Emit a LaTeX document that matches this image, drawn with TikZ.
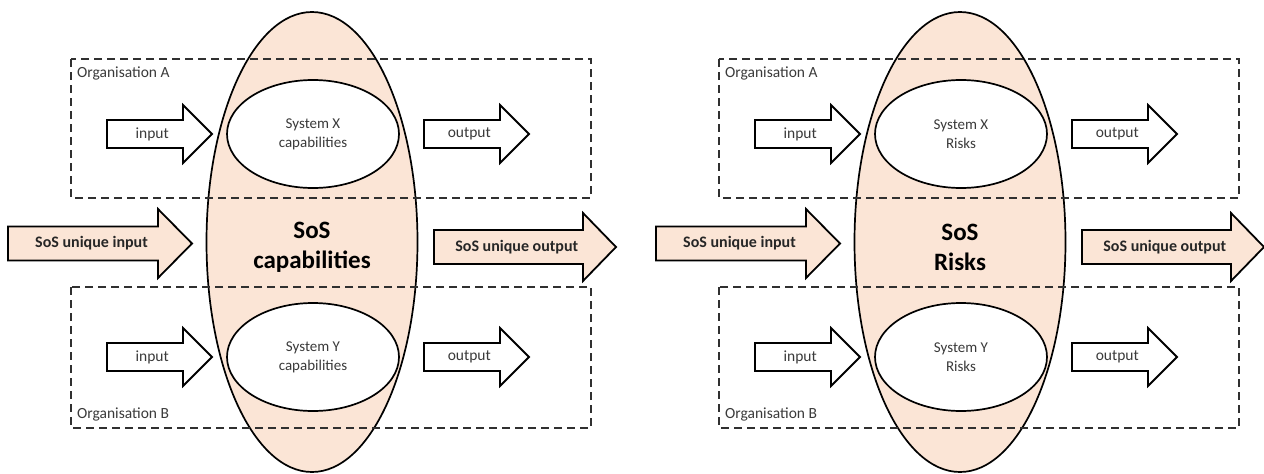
\documentclass[tikz,border=0pt]{standalone}
\usepackage{fontspec}
\setmainfont{Carlito}
\usetikzlibrary{shapes.geometric}

\definecolor{peach}{HTML}{FBE5D6}
\definecolor{txtgrey}{HTML}{3A3A3A}
\definecolor{dashgrey}{HTML}{303030}

\tikzset{
  bigell/.style={ellipse, draw=black, line width=1.7pt, fill=peach,
    minimum width=211pt, minimum height=460pt, inner sep=0pt, outer sep=0pt},
  sysell/.style={ellipse, draw=black, line width=1.7pt, fill=white,
    minimum width=172pt, minimum height=108pt, inner sep=0pt, outer sep=0pt,
    text=txtgrey, align=center, font=\fontsize{15}{19}\selectfont},
  orgbox/.style={draw=dashgrey, line width=2.4pt, dash pattern=on 8pt off 5pt},
  orglabel/.style={anchor=west, inner sep=0pt, text=txtgrey,
    font=\fontsize{15.5}{19}\selectfont},
  smallarrow/.style={draw=black, line width=1.8pt, fill=white, line join=miter},
  smallarrow label/.style={inner sep=0pt, text=txtgrey,
    font=\fontsize{15.5}{19}\selectfont},
  sosarrow/.style={draw=black, line width=1.8pt, fill=peach, line join=miter},
  sosarrow label/.style={inner sep=0pt, text=black!85,
    font=\bfseries\fontsize{16}{19}\selectfont},
  sostitle/.style={inner sep=0pt, align=center,
    font=\bfseries\fontsize{25}{30}\selectfont},
}

% block arrow: #1 style, #2 tail x, #3 head base x, #4 tip x, #5 centre y,
% #6 half shaft width, #7 half head width, #8 label name, #9 label text
\newcommand\blockarrow[9]{%
  \draw[#1] (#2,#5-#6) -- (#3,#5-#6) -- (#3,#5-#7) -- (#4,#5)
    -- (#3,#5+#7) -- (#3,#5+#6) -- (#2,#5+#6) -- cycle;
  \node[#1 label] (#8) at ({#2/2+(#3+#4)/4},#5) {#9};
}

% one system-of-systems panel: #1 name prefix, #2 horizontal shift, #3 aspect
\newcommand\sospanel[3]{%
  \begin{scope}[xshift=#2, name prefix=#1-]
    \node[bigell] (sos) at (312,242) {};
    \draw[orgbox] (71,59) rectangle (591,198);
    \draw[orgbox] (71,287) rectangle (591,428);
    \node[orglabel] (orgA) at (77,73) {Organisation A};
    \node[orglabel] (orgB) at (77,414) {Organisation B};
    \node[sysell] (sysX) at (313,134) {System X\\#3};
    \node[sysell] (sysY) at (313,357) {System Y\\#3};
    \node[sostitle] (sostxt) at (312,247) {SoS\\#3};
    \blockarrow{smallarrow}{107}{183}{212}{134}{14}{29}{inA}{input}
    \blockarrow{smallarrow}{424}{500}{529}{134}{14}{29}{outA}{output}
    \blockarrow{smallarrow}{107}{183}{212}{357}{14}{29}{inB}{input}
    \blockarrow{smallarrow}{424}{500}{529}{357}{14}{29}{outB}{output}
    \blockarrow{sosarrow}{8}{158}{192}{243.5}{17}{34.5}{sosin}{SoS unique input}
    \blockarrow{sosarrow}{434}{583}{616}{247}{17}{34}{sosout}{SoS unique output}
  \end{scope}%
}

\begin{document}
\begin{tikzpicture}[x=1pt, y=-1pt]
  \useasboundingbox (0,0) rectangle (1264,474);
  \sospanel{cap}{0pt}{capabilities}
  \sospanel{risk}{648pt}{Risks}
\end{tikzpicture}
\end{document}
